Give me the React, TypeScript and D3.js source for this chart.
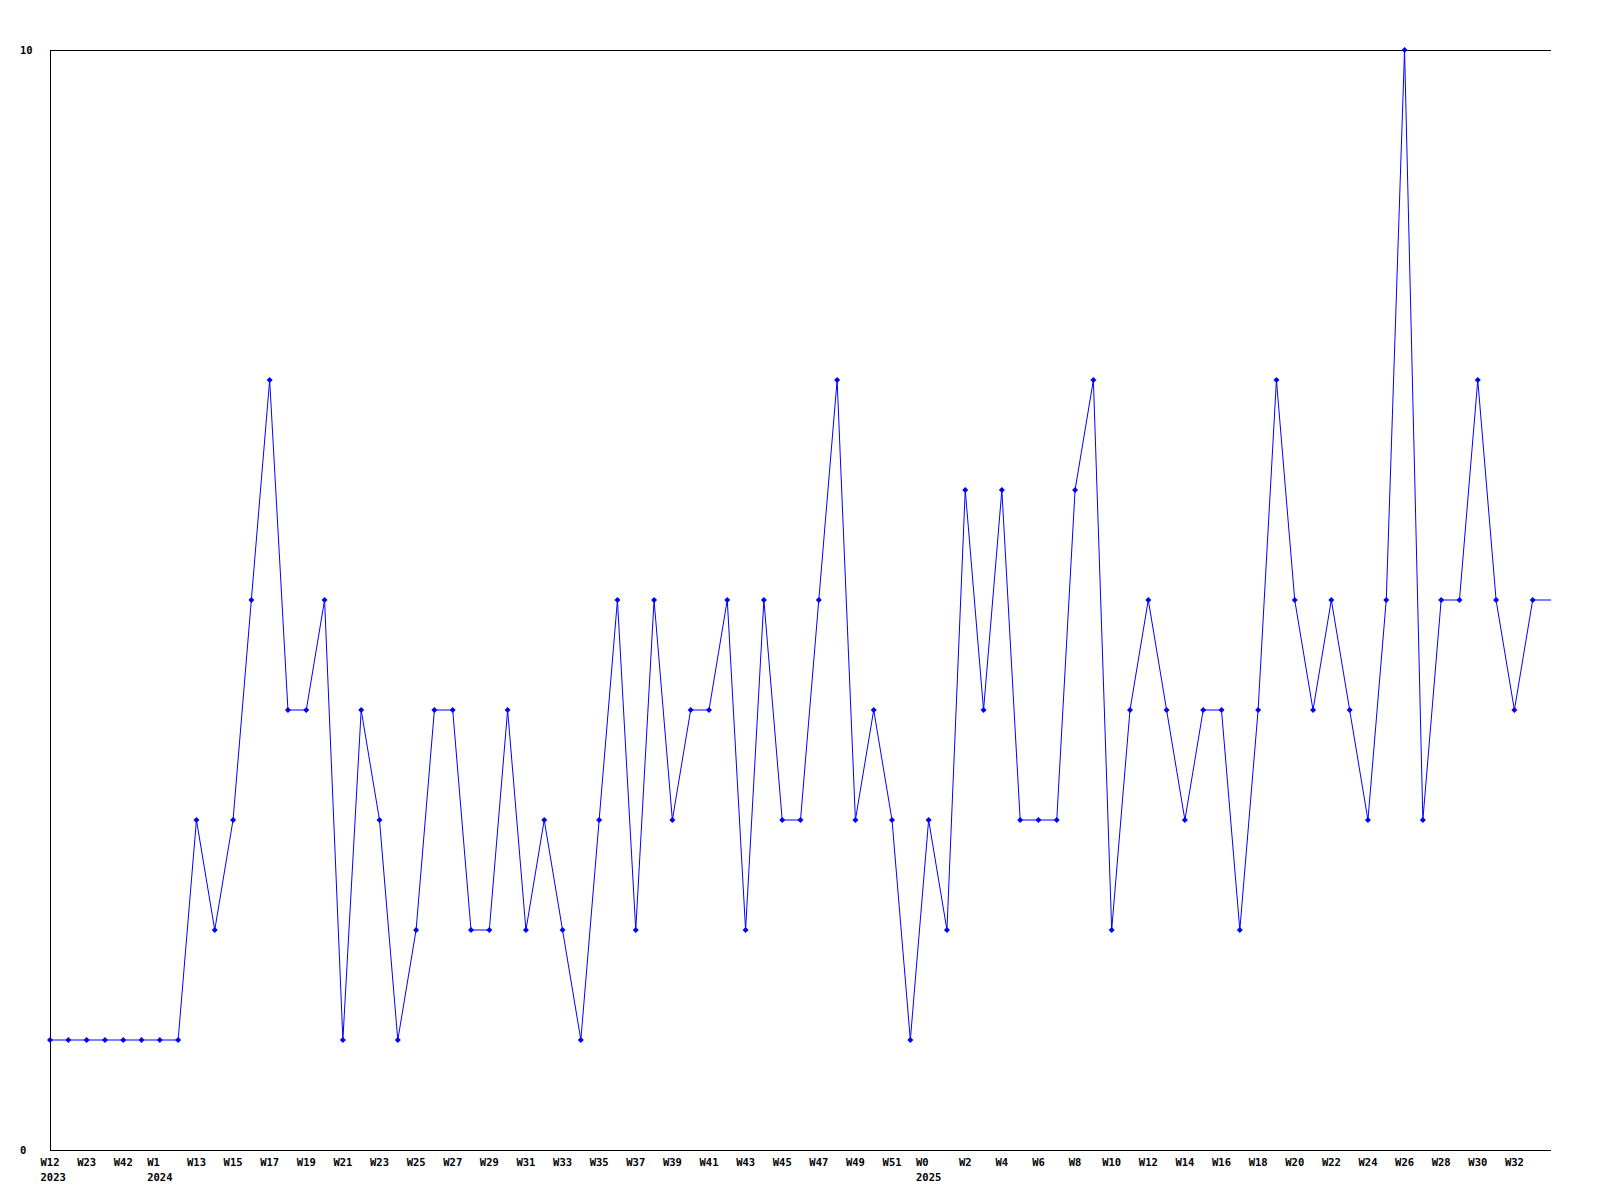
import React from "react";
import * as d3 from "d3";

// Weekly values, one per category (every category is one x step)
const values: number[] = [
  1, 1, 1, 1, 1, 1, 1, 1, 3, 2,
  3, 5, 7, 4, 4, 5, 1, 4, 3, 1,
  2, 4, 4, 2, 2, 4, 2, 3, 2, 1,
  3, 5, 2, 5, 3, 4, 4, 5, 2, 5,
  3, 3, 5, 7, 3, 4, 3, 1, 3, 2,
  6, 4, 6, 3, 3, 3, 6, 7, 2, 4,
  5, 4, 3, 4, 4, 2, 4, 7, 5, 4,
  5, 4, 3, 5, 10, 3, 5, 5, 7, 5,
  4, 5,
];

// Tick labels shown on every second category
const tickLabels: string[] = [
  "W12", "W23", "W42", "W1",
  "W13", "W15", "W17", "W19", "W21", "W23", "W25", "W27", "W29", "W31",
  "W33", "W35", "W37", "W39", "W41", "W43", "W45", "W47", "W49", "W51",
  "W0", "W2", "W4", "W6", "W8", "W10", "W12", "W14", "W16", "W18",
  "W20", "W22", "W24", "W26", "W28", "W30", "W32",
];
const yearTickIndex: number[] = [0, 3, 24];
const years: string[] = ["2023", "2024", "2025"];
const yTicks: number[] = [0, 10];

const W = 1600;
const H = 1200;
const left = 50;
const right = 1551;
const top = 50;
const bottom = 1150;
const FONT_SIZE = 10.5;
const CHAR_W = 6.3;
const FONT = "'DejaVu Sans Mono', monospace";

export default function App() {
  const x = d3.scaleLinear().domain([0, values.length]).range([left, right]);
  const y = d3.scaleLinear().domain([0, 10]).range([bottom, top]);

  const pts: [number, number][] = values.map((v, i) => [x(i), y(v)]);
  const linePts: [number, number][] = [
    ...pts,
    [x(values.length), y(values[values.length - 1])],
  ];
  const line = d3.line<[number, number]>().x((d) => d[0]).y((d) => d[1]);

  const marker = (cx: number, cy: number) =>
    `M${cx - 3},${cy}L${cx},${cy - 3}L${cx + 3},${cy}L${cx},${cy + 3}Z`;

  return (
    <svg
      width={W}
      height={H}
      style={{ position: "absolute", left: 0, top: 0, background: "#fff" }}
      fontFamily={FONT}
      fontWeight="bold"
      fontSize={FONT_SIZE}
    >
      <rect x={0} y={0} width={W} height={H} fill="#fff" />
      {/* axes */}
      <g stroke="#000" strokeWidth={1} shapeRendering="crispEdges">
        <line x1={left} y1={top} x2={left} y2={bottom} />
        <line x1={left} y1={bottom} x2={right} y2={bottom} />
        <line x1={left} y1={top} x2={right} y2={top} />
      </g>
      {/* y labels */}
      {yTicks.map((t) => (
        <text key={t} x={20} y={y(t) + 4} fill="#000">
          {t}
        </text>
      ))}
      {/* x labels */}
      {tickLabels.map((lab, k) => {
        const cx = x(k * 2);
        const yi = yearTickIndex.indexOf(k);
        const yr = yi >= 0 ? years[yi] : "";
        const maxLen = k === 0 ? lab.length : Math.max(lab.length, yr.length);
        const sx = cx - (maxLen * CHAR_W) / 2;
        return (
          <g key={k}>
            <text x={sx} y={1166} fill="#000">
              {lab}
            </text>
            {yr && (
              <text x={sx} y={1181} fill="#000">
                {yr}
              </text>
            )}
          </g>
        );
      })}
      {/* series */}
      <path d={line(linePts) || ""} fill="none" stroke="#0000ff" strokeWidth={1} />
      {pts.map((p, i) => (
        <path key={i} d={marker(p[0], p[1])} fill="#0000ff" />
      ))}
    </svg>
  );
}
